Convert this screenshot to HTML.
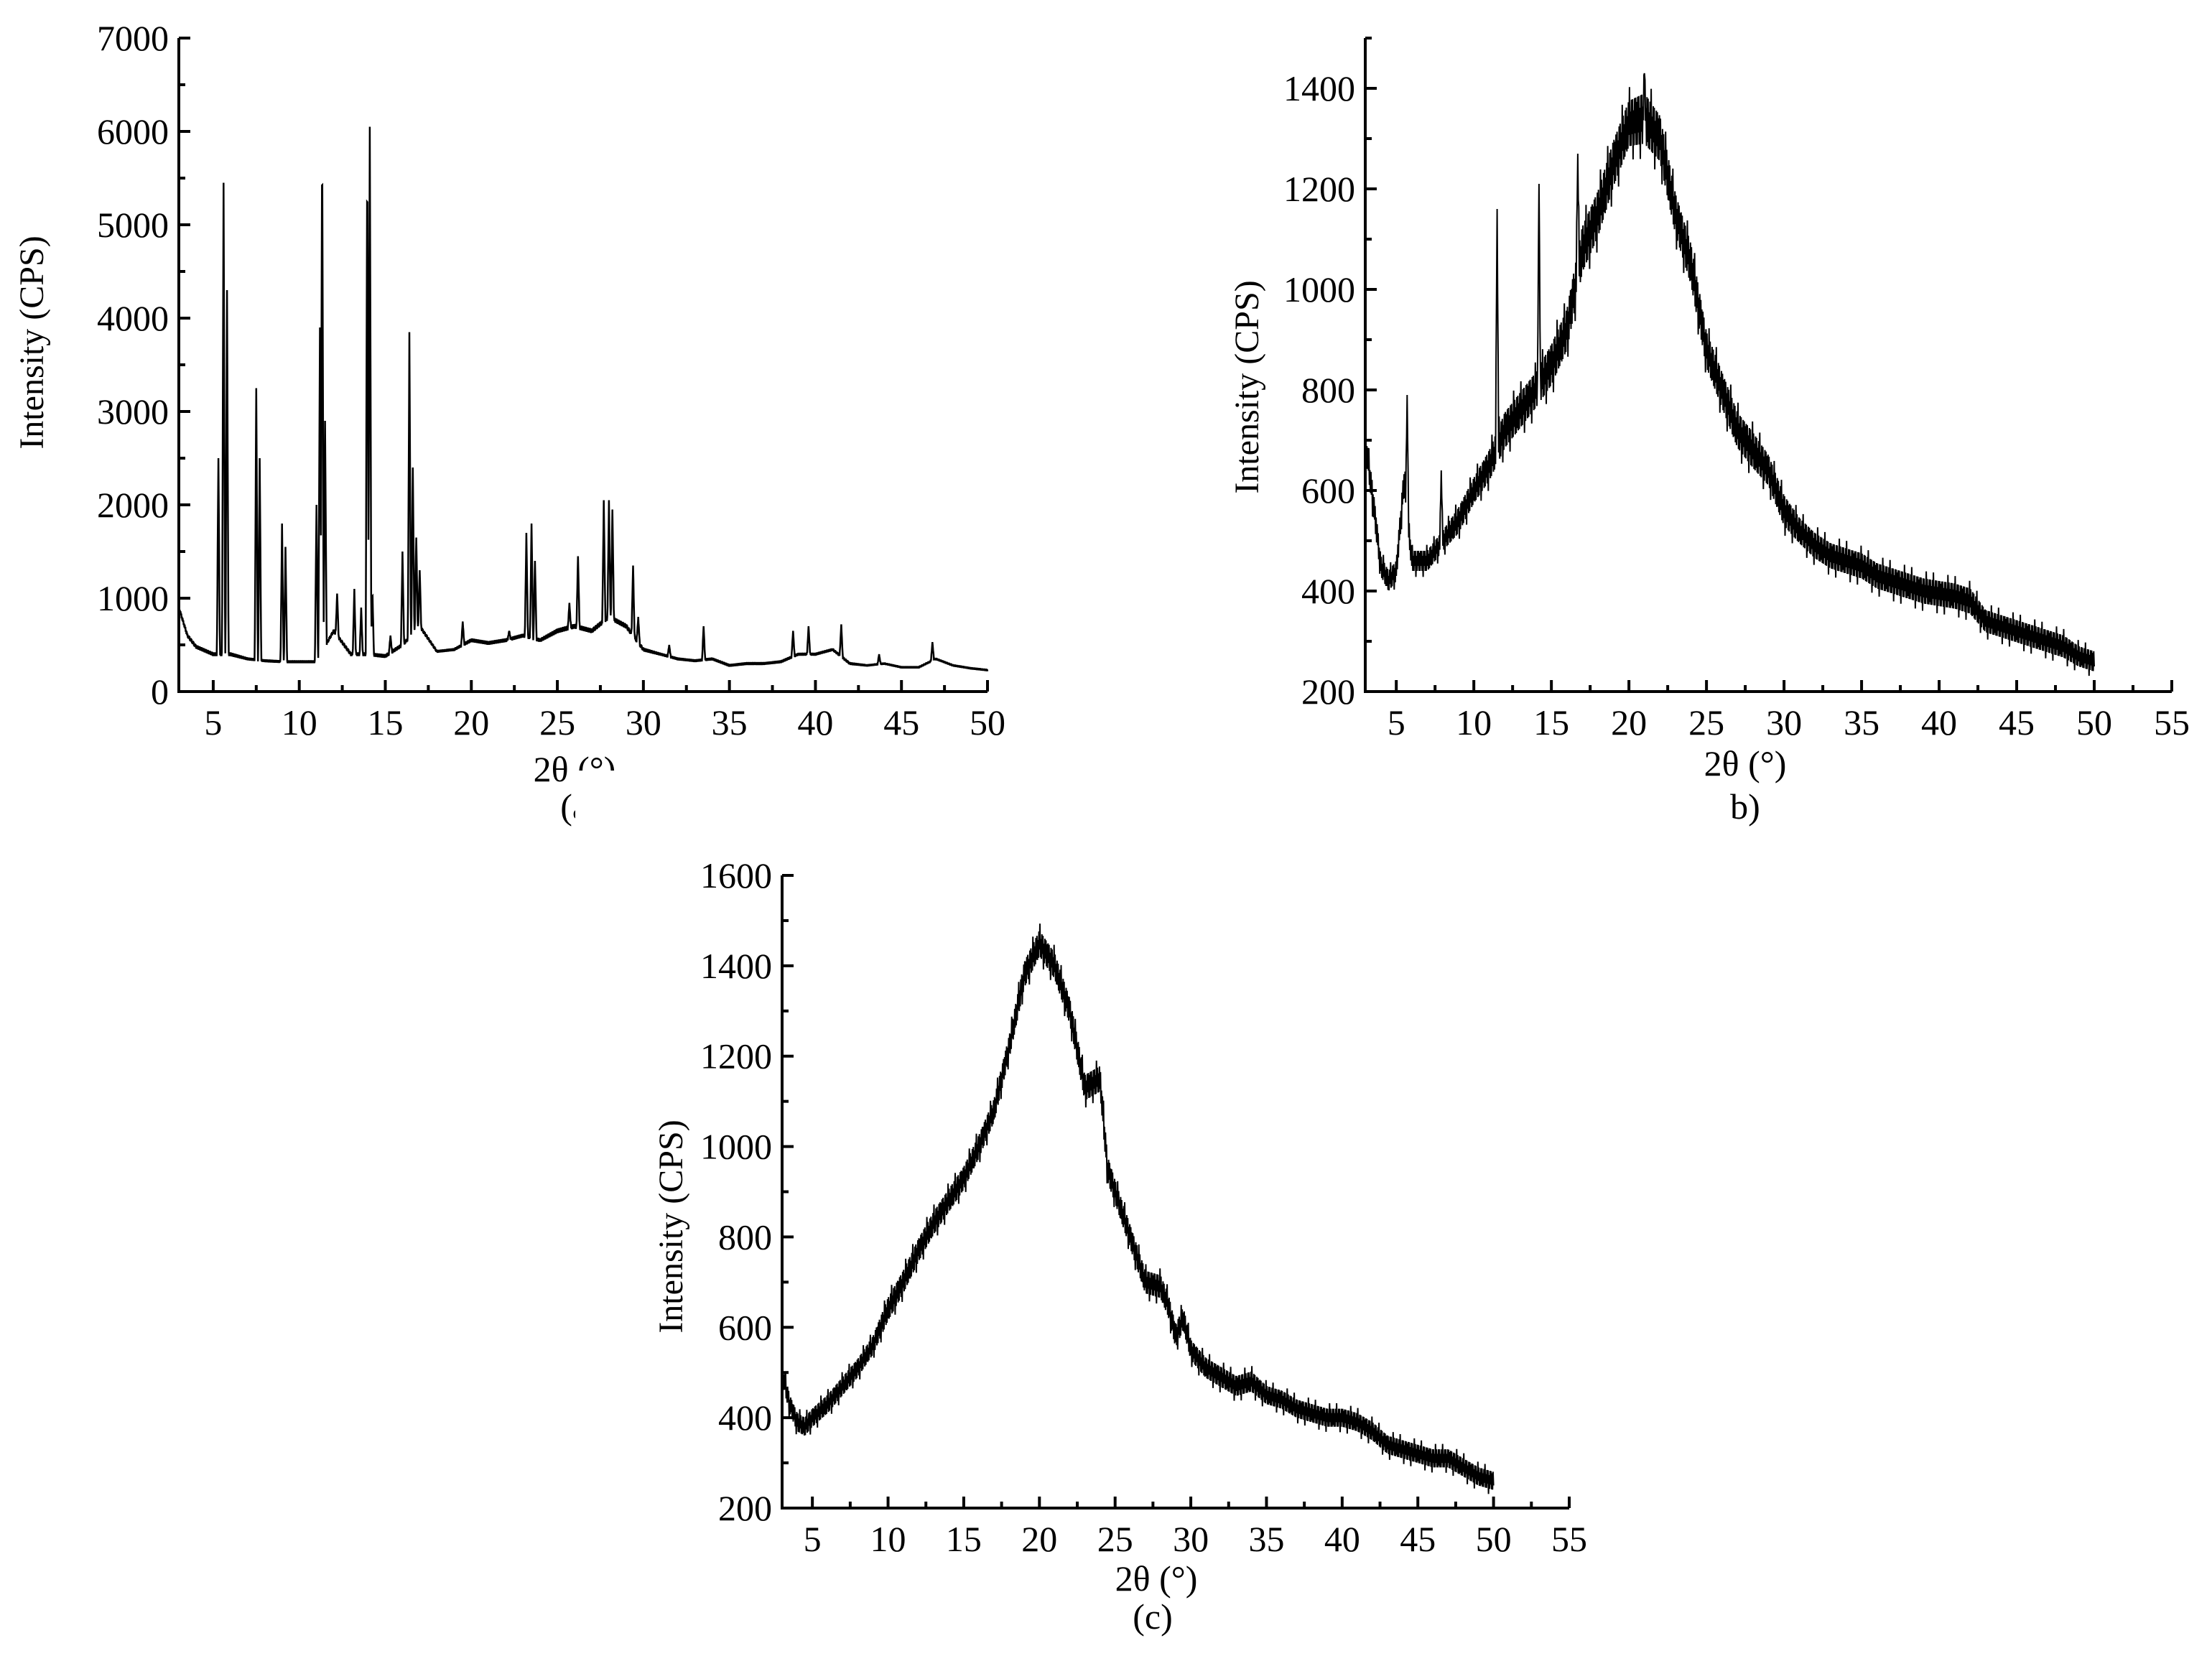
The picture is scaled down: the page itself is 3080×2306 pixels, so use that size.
<!DOCTYPE html>
<html>
<head>
<meta charset="utf-8">
<style>
html,body{margin:0;padding:0;background:#fff;}
svg{display:block;}
svg text{font-family:"Liberation Serif","DejaVu Serif",serif;fill:#000;}
</style>
</head>
<body>
<svg id="chart" width="3080" height="2306" viewBox="0 0 3080 2306" xmlns="http://www.w3.org/2000/svg" font-family="Liberation Serif, DejaVu Serif, serif">
<rect x="0" y="0" width="3080" height="2306" fill="#fff"/>
</svg>
<script>
// ---- Panel (a) data ----
const aBaseX = [3,3.5,4,5,6,7,8,9,10,11,12,13,14,15,16,17,18,19,20,21,22,23,24,25,26,27,28,29,30,31,32,33,34,35,36,37,38,39,40,41,42,43,44,45,46,47,48,49,50];
const aBaseY = [900,600,480,400,400,350,330,320,320,320,650,400,400,380,500,700,430,450,550,520,550,600,550,650,700,650,800,700,450,400,350,330,350,280,300,300,320,400,400,450,300,280,300,260,260,350,280,250,230];
const aNoise = [20,20,20,20,20,15,15,15,15,15,20,20,20,20,20,20,15,15,20,20,20,20,20,25,25,25,25,25,20,15,15,15,15,15,15,15,15,15,15,15,15,12,12,12,12,12,12,12,12];
const aPeakX = [5.3,5.6,5.8,7.5,7.7,9.0,9.2,11.0,11.2,11.33,11.5,12.2,13.2,13.6,13.95,14.1,14.25,15.3,16.0,16.4,16.6,16.8,17.0,19.5,22.2,23.2,23.5,23.7,25.7,26.2,27.7,28.0,28.2,29.4,29.7,31.5,33.5,38.7,39.6,41.5,43.7,46.8];
const aPeakY = [2500,5450,4300,3250,2500,1800,1550,2000,3900,6050,2900,1050,1100,900,5850,6050,1100,600,1500,3850,2400,1650,1300,750,650,1700,1800,1400,950,1450,2050,2050,1950,1350,800,500,700,650,700,720,400,530];
// ---- Panel (b) data ----
const bBaseX = [3,3.5,4,4.5,5,5.5,6,7,8,9,10,11,12,13,14,15,16,17,18,19,20,21,22,23,24,25,26,27,28,29,30,31,32,33,34,35,36,37,38,39,40,41,42,43,44,45,46,47,48,49,50];
const bBaseY = [700,580,450,420,440,620,460,460,500,540,600,650,720,760,800,850,920,1080,1150,1250,1330,1340,1300,1150,1050,880,800,720,680,640,560,520,490,470,460,450,430,420,410,400,395,390,380,340,330,320,310,300,290,270,260];
const bNoise = [25,25,20,20,20,25,20,20,20,25,25,30,35,35,35,40,40,45,45,45,45,50,45,40,40,35,35,35,35,30,30,25,25,25,25,25,25,25,25,25,25,25,25,22,22,22,22,22,22,20,20];
const bPeakX = [5.7,7.9,11.5,14.2,16.7,21.0];
const bPeakY = [790,640,1160,1210,1270,1430];
// ---- Panel (c) data ----
const cBaseX = [3,3.5,4,4.5,5,6,7,8,9,10,11,12,13,14,15,16,17,18,19,20,21,22,23,24,24.5,25,26,27,28,28.5,29,29.5,30,31,32,33,34,35,36,37,38,39,40,41,42,43,44,45,46,47,48,49,50];
const cBaseY = [500,430,390,380,400,430,470,510,560,640,700,770,830,880,930,1000,1080,1220,1380,1450,1400,1300,1130,1150,950,900,800,700,690,650,580,620,550,510,490,470,480,450,440,420,410,400,400,390,370,340,330,320,310,310,290,270,260];
const cNoise = [20,20,20,20,20,20,20,20,20,25,25,25,25,25,25,25,25,25,28,28,28,28,28,28,28,25,25,25,25,25,25,25,22,22,22,22,22,20,20,20,20,20,20,20,20,20,20,20,20,20,20,20,20];
// ---- tick labels ----
const aXTicks = [5,10,15,20,25,30,35,40,45,50];
const aYTicks = [0,1000,2000,3000,4000,5000,6000,7000];
const bcXTicks = [5,10,15,20,25,30,35,40,45,50,55];
const bYTicks = [200,400,600,800,1000,1200,1400];
const cYTicks = [200,400,600,800,1000,1200,1400,1600];

const NS = 'http://www.w3.org/2000/svg';
const svg = document.getElementById('chart');
function mk(tag, attrs, parent){
  const e = document.createElementNS(NS, tag);
  for (const k in attrs) e.setAttribute(k, attrs[k]);
  (parent||svg).appendChild(e);
  return e;
}
function interp(xs, ys, x){
  if (x <= xs[0]) return ys[0];
  for (let i=1;i<xs.length;i++){
    if (x <= xs[i]){ const t=(x-xs[i-1])/(xs[i]-xs[i-1]); return ys[i-1]+t*(ys[i]-ys[i-1]); }
  }
  return ys[ys.length-1];
}
const FF = 'Liberation Serif, DejaVu Serif, serif';

function panel(cfg){
  const g = mk('g', {});
  
  
  const sx = v => cfg.x0 + (v - cfg.xmin) / (cfg.xmax - cfg.xmin) * (cfg.x1 - cfg.x0);
  const sy = v => cfg.y0 - (v - cfg.ymin) / (cfg.ymax - cfg.ymin) * (cfg.y0 - cfg.y1);
  const pts = [];
  for (let i=0;i<=cfg.n;i++){
    const x = cfg.xmin + (cfg.xend - cfg.xmin) * i / cfg.n;
    pts.push([x, cfg.f(x, i)]);
  }
  const d = pts.map((p,i)=>(i?'L':'M')+sx(p[0]).toFixed(1)+' '+sy(p[1]).toFixed(1)).join('');
  const line = mk('path', {d:d, fill:'none', stroke:'#000', 'stroke-width':cfg.lw, 'stroke-linejoin':'miter'}, g);
  
  
  const ax = mk('path', {d:`M${cfg.x0} ${cfg.y1}L${cfg.x0} ${cfg.y0}L${cfg.x1} ${cfg.y0}`, fill:'none', stroke:'#000', 'stroke-width':4}, g);
  
  
  for (let v=cfg.xminTick; v<=cfg.xmax+0.01; v+=cfg.xstep/2){
    const major = Math.abs(v/cfg.xstep - Math.round(v/cfg.xstep))<0.01;
    const x = sx(v);
    mk('line', {x1:x, x2:x, y1:cfg.y0, y2:cfg.y0-(major?16:9), stroke:'#000','stroke-width':4}, g);
  }
  cfg.xticks.forEach(v=>{
    const t = mk('text', {x:sx(v), y:cfg.y0+60, 'font-size':50, 'text-anchor':'middle', 'font-family':FF}, g);
    t.textContent = v;
    
    
  });
  for (let v=cfg.ymin; v<=cfg.ymax+0.01; v+=cfg.ystep/2){
    const y = sy(v);
    const major = Math.abs(v/cfg.ystep - Math.round(v/cfg.ystep))<0.01;
    mk('line', {x1:cfg.x0, x2:cfg.x0+(major?16:9), y1:y, y2:y, stroke:'#000','stroke-width':4}, g);
  }
  cfg.yticks.forEach(v=>{
    const t = mk('text', {x:cfg.x0-14, y:sy(v)+17, 'font-size':50, 'text-anchor':'end', 'font-family':FF}, g);
    t.textContent = v;
    
    
  });
  const yt = mk('text', {x:0, y:0, 'font-size':48, 'text-anchor':'middle', 'font-family':FF, transform:`translate(${cfg.ylx},${cfg.yly}) rotate(-90)`}, g);
  yt.textContent = 'Intensity (CPS)';
  
  
  const xt = mk('text', {x:cfg.xtx, y:cfg.xty, 'font-size':50, 'text-anchor':'middle', 'font-family':FF}, g);
  xt.textContent = '2θ (°)';
  
  
  const lb = mk('text', {x:cfg.lbx, y:cfg.lby, 'font-size':50, 'text-anchor':'middle', 'font-family':FF}, g);
  lb.textContent = cfg.label;
  
  
  if (cfg.cover) mk('rect', cfg.cover, g).setAttribute('fill','#fff');
}

function spikes(px, py, x, base, hw){
  let v = base;
  for (let k=0;k<px.length;k++){
    const dx = Math.abs(x-px[k]);
    if (dx<hw){ const h = base + (py[k]-base)*(1-dx/hw); if (h>v) v=h; }
  }
  return v;
}

panel({name:'panel-a', x0:249, x1:1375, y0:963, y1:53, xmin:3, xmax:50, xend:50, ymin:0, ymax:7000,
  xminTick:5, xstep:5, ystep:1000, xticks:aXTicks, yticks:aYTicks, n:2350, lw:2.5,
  f:(x,i)=>{ const b=interp(aBaseX,aBaseY,x)+(i%2?1:-1)*interp(aBaseX,aNoise,x)*(i%3?1:0.5); return spikes(aPeakX,aPeakY,x,b,0.09); },
  ylx:60, yly:477, xtx:800, xty:1088, label:'(a)', lbx:808, lby:1140,
  cover:{x:801, y:1073, width:120, height:90}});

panel({name:'panel-b', x0:1901, x1:3024, y0:963, y1:53, xmin:3, xmax:55, xend:50, ymin:200, ymax:1500,
  xminTick:5, xstep:5, ystep:200, xticks:bcXTicks, yticks:bYTicks, n:1410, lw:2,
  f:(x,i)=>{ const b=interp(bBaseX,bBaseY,x); const a=interp(bBaseX,bNoise,x); const s=(i%2?1:-1)*a*(i%3?1:0.5)*(i%7?1:1.6); return spikes(bPeakX,bPeakY,x,b+s,0.1); },
  ylx:1752, yly:539, xtx:2430, xty:1080, label:'b)', lbx:2430, lby:1140});

panel({name:'panel-c', x0:1089, x1:2185, y0:2100, y1:1219, xmin:3, xmax:55, xend:50, ymin:200, ymax:1600,
  xminTick:5, xstep:5, ystep:200, xticks:bcXTicks, yticks:cYTicks, n:1410, lw:2,
  f:(x,i)=>{ const b=interp(cBaseX,cBaseY,x); const a=interp(cBaseX,cNoise,x); return b+(i%2?1:-1)*a*(i%3?1:0.5)*(i%7?1:1.6); },
  ylx:950, yly:1708, xtx:1610, xty:2215, label:'(c)', lbx:1605, lby:2268});
</script>
</body>
</html>
